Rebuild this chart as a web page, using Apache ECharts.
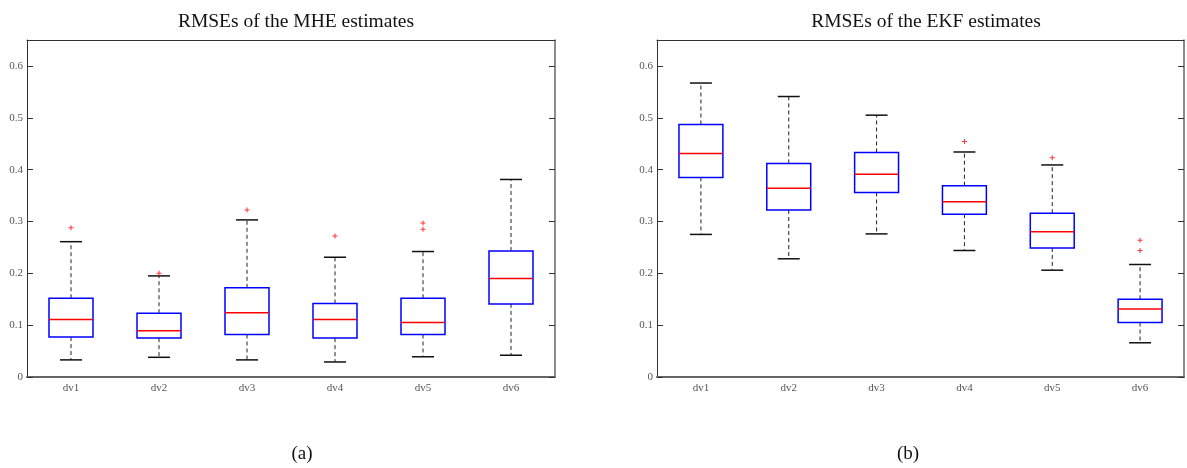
<!DOCTYPE html>
<html>
<head>
<meta charset="utf-8">
<script src="https://cdn.jsdelivr.net/npm/echarts@6/dist/echarts.min.js"></script>
<style>html,body{margin:0;padding:0;background:#fff}#c{width:1187px;height:468px}</style>
</head>
<body>
<div id="c"></div>
<script>
var categories = ['dv1','dv2','dv3','dv4','dv5','dv6'];
var yTicks = [0, 0.1, 0.2, 0.3, 0.4, 0.5, 0.6];

// MHE panel (a)
var mheMin = [0.033, 0.038, 0.033, 0.029, 0.039, 0.042];
var mheQ1  = [0.077, 0.075, 0.082, 0.075, 0.082, 0.141];
var mheMed = [0.111, 0.089, 0.124, 0.111, 0.105, 0.190];
var mheQ3  = [0.152, 0.123, 0.172, 0.142, 0.152, 0.243];
var mheMax = [0.261, 0.195, 0.303, 0.231, 0.242, 0.381];
var mheOutliers = [[0, 0.288], [1, 0.200], [2, 0.322], [3, 0.272], [4, 0.297], [4, 0.285]];

// EKF panel (b)
var ekfMin = [0.275, 0.228, 0.276, 0.244, 0.206, 0.066];
var ekfQ1  = [0.385, 0.322, 0.356, 0.314, 0.249, 0.105];
var ekfMed = [0.431, 0.364, 0.391, 0.338, 0.280, 0.131];
var ekfQ3  = [0.487, 0.412, 0.433, 0.369, 0.316, 0.150];
var ekfMax = [0.567, 0.541, 0.505, 0.434, 0.409, 0.217];
var ekfOutliers = [[3, 0.454], [4, 0.423], [5, 0.264], [5, 0.244]];

var titles = ['RMSEs of the MHE estimates', 'RMSEs of the EKF estimates'];
var subLabels = ['(a)', '(b)'];

function boxRows(mn, q1, md, q3, mx) {
  return categories.map(function (c, i) { return [i, mn[i], q1[i], md[i], q3[i], mx[i]]; });
}

function renderBox(params, api) {
  var i = api.value(0);
  var band = api.size([1, 0])[0];
  var pMin = api.coord([i, api.value(1)]);
  var pQ1 = api.coord([i, api.value(2)]);
  var pMed = api.coord([i, api.value(3)]);
  var pQ3 = api.coord([i, api.value(4)]);
  var pMax = api.coord([i, api.value(5)]);
  var x = pMed[0];
  var bw = band * 0.5, cw = band * 0.25;
  return {
    type: 'group',
    children: [
      { type: 'line', shape: { x1: x, y1: pQ3[1], x2: x, y2: pMax[1] },
        style: { stroke: '#222', lineWidth: 1, lineDash: [4, 3] } },
      { type: 'line', shape: { x1: x, y1: pQ1[1], x2: x, y2: pMin[1] },
        style: { stroke: '#222', lineWidth: 1, lineDash: [4, 3] } },
      { type: 'line', shape: { x1: x - cw / 2, y1: pMax[1], x2: x + cw / 2, y2: pMax[1] },
        style: { stroke: '#111', lineWidth: 1.5 } },
      { type: 'line', shape: { x1: x - cw / 2, y1: pMin[1], x2: x + cw / 2, y2: pMin[1] },
        style: { stroke: '#111', lineWidth: 1.5 } },
      { type: 'rect', shape: { x: x - bw / 2, y: pQ3[1], width: bw, height: pQ1[1] - pQ3[1] },
        style: { fill: 'none', stroke: '#0000ff', lineWidth: 1.5 } },
      { type: 'line', shape: { x1: x - bw / 2, y1: pMed[1], x2: x + bw / 2, y2: pMed[1] },
        style: { stroke: '#ff0000', lineWidth: 1.5 } }
    ]
  };
}

var plusPath = 'path://M4,0 L6,0 L6,4 L10,4 L10,6 L6,6 L6,10 L4,10 L4,6 L0,6 L0,4 L4,4 Z';

var grids = [
  { left: 27, right: 632, top: 40, bottom: 91 },
  { left: 657, right: 3, top: 40, bottom: 91 }
];

var labelFont = { fontFamily: 'Liberation Serif', fontSize: 11, color: '#555' };

function yLabel(v) {
  for (var k = 0; k < yTicks.length; k++) {
    if (Math.abs(v - yTicks[k]) < 1e-9) return String(yTicks[k]);
  }
  return '';
}

var xAxes = [], yAxes = [], series = [];
for (var g = 0; g < 2; g++) {
  xAxes.push({
    type: 'category', gridIndex: g, data: categories, boundaryGap: true, position: 'bottom',
    axisLine: { onZero: false, lineStyle: { color: '#666', width: 2 } },
    axisTick: { inside: true, alignWithLabel: true, length: 6, lineStyle: { color: '#333' } },
    axisLabel: Object.assign({ margin: 6 }, labelFont),
    splitLine: { show: false }
  });
  xAxes.push({
    type: 'category', gridIndex: g, data: categories, boundaryGap: true, position: 'top',
    axisLine: { onZero: false, lineStyle: { color: '#333', width: 1.2 } },
    axisTick: { inside: true, alignWithLabel: true, length: 6, lineStyle: { color: '#333' } },
    axisLabel: { show: false }, splitLine: { show: false }
  });
  yAxes.push({
    type: 'value', gridIndex: g, min: 0, max: 0.65, interval: 0.1, position: 'left',
    axisLine: { show: true, onZero: false, lineStyle: { color: '#333', width: 1 } },
    axisTick: { show: true, inside: true, length: 6, lineStyle: { color: '#333' } },
    axisLabel: Object.assign({ margin: 4, showMaxLabel: false, formatter: yLabel }, labelFont),
    splitLine: { show: false }
  });
  yAxes.push({
    type: 'value', gridIndex: g, min: 0, max: 0.65, interval: 0.1, position: 'right',
    axisLine: { show: true, onZero: false, lineStyle: { color: '#666', width: 1.5 } },
    axisTick: { show: true, inside: true, length: 6, lineStyle: { color: '#333' } },
    axisLabel: { show: false }, splitLine: { show: false }
  });
}

var panels = [
  { rows: boxRows(mheMin, mheQ1, mheMed, mheQ3, mheMax), out: mheOutliers },
  { rows: boxRows(ekfMin, ekfQ1, ekfMed, ekfQ3, ekfMax), out: ekfOutliers }
];
panels.forEach(function (p, g) {
  series.push({
    type: 'custom', xAxisIndex: g * 2, yAxisIndex: g * 2, renderItem: renderBox,
    encode: { x: 0, y: [1, 2, 3, 4, 5] }, data: p.rows, silent: true
  });
  series.push({
    type: 'scatter', xAxisIndex: g * 2, yAxisIndex: g * 2, data: p.out,
    symbol: plusPath, symbolSize: 5, itemStyle: { color: '#ff0000' }, silent: true
  });
});

var titleComps = [];
[291, 921].forEach(function (cx, g) {
  titleComps.push({ text: titles[g], left: cx, top: 7, textAlign: 'center',
    textStyle: { fontFamily: 'Liberation Serif', fontSize: 19.5, fontWeight: 'normal', color: '#111' } });
  titleComps.push({ text: subLabels[g], left: [297, 903][g], top: 440, textAlign: 'center',
    textStyle: { fontFamily: 'Liberation Serif', fontSize: 19, fontWeight: 'normal', color: '#111' } });
});

var chart = echarts.init(document.getElementById('c'), null, { renderer: 'canvas' });
chart.setOption({
  animation: false,
  backgroundColor: '#fff',
  title: titleComps,
  grid: grids,
  xAxis: xAxes,
  yAxis: yAxes,
  series: series
});
</script>
</body>
</html>
